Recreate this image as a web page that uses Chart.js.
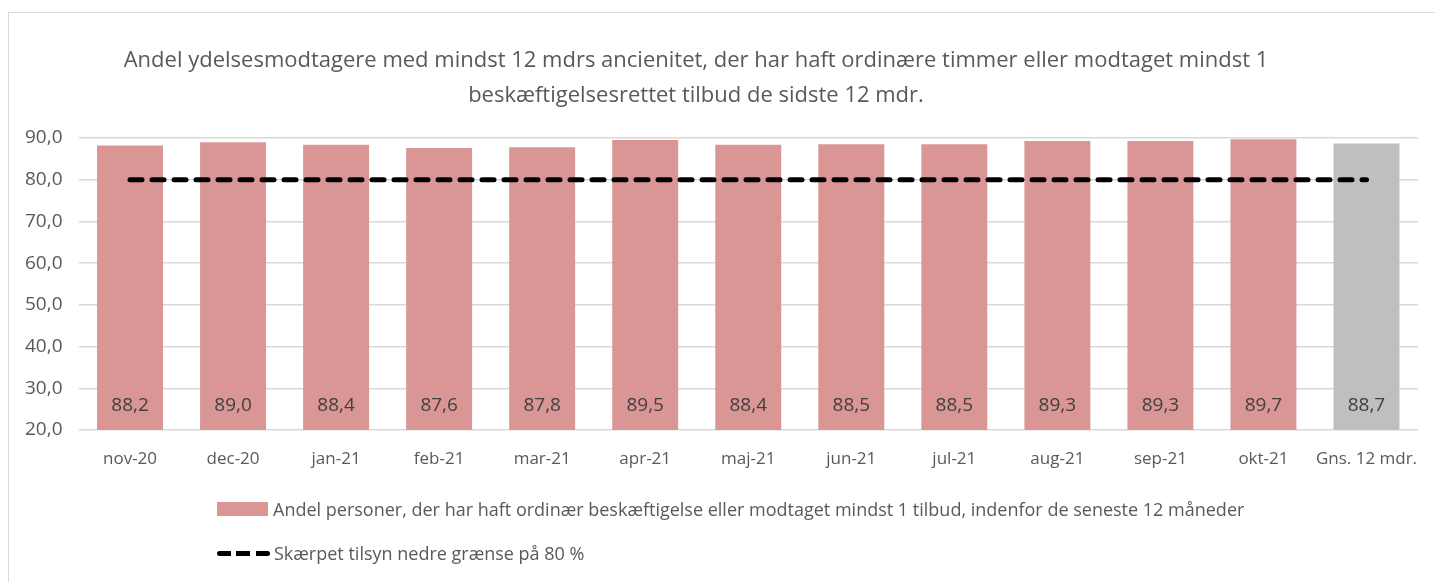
<!DOCTYPE html>
<html>
<head>
<meta charset="utf-8">
<script src="https://cdn.jsdelivr.net/npm/chart.js@4/dist/chart.umd.min.js"></script>
<style>
  html, body { margin: 0; padding: 0; background: #fff; overflow: hidden; }
  body { width: 1435px; height: 582px; position: relative; font-family: "Open Sans", sans-serif; color: #595959; }
  #frame { position: absolute; left: 8px; top: 12px; width: 1500px; height: 700px; border: 1.5px solid #d9d9d9; box-sizing: border-box; }
  #wrap { position: absolute; left: 0; top: 0; width: 1435px; height: 582px; }
  .tline { position: absolute; left: 696px; transform: translateX(-50%); font-size: 22px; line-height: 30px; white-space: nowrap; }
  .leg { position: absolute; left: 217px; font-size: 18px; display: flex; align-items: center; white-space: nowrap; }
  .swatch { width: 51px; height: 14px; background: #d99694; margin-right: 5px; }
  .dash { width: 53px; height: 5px; margin-right: 4px;
          background: repeating-linear-gradient(to right, #000 0 14px, transparent 14px 19.5px); border-radius: 3px; }
</style>
</head>
<body>
<div id="frame"></div>
<div id="wrap"><canvas id="chart"></canvas></div>
<div class="tline" style="top:43px">Andel ydelsesmodtagere med mindst 12 mdrs ancienitet, der har haft ordinære timmer eller modtaget mindst 1</div>
<div class="tline" style="top:78px">beskæftigelsesrettet tilbud de sidste 12 mdr.</div>
<div class="leg" style="top:497px"><div class="swatch"></div><span id="leg1"></span></div>
<div class="leg" style="top:541px"><div class="dash"></div><span id="leg2"></span></div>
<script>
// data
const categories = ['nov-20', 'dec-20', 'jan-21', 'feb-21', 'mar-21', 'apr-21', 'maj-21', 'jun-21', 'jul-21', 'aug-21', 'sep-21', 'okt-21', 'Gns. 12 mdr.'];
const andelValues = [88.2, 89.0, 88.4, 87.6, 87.8, 89.5, 88.4, 88.5, 88.5, 89.3, 89.3, 89.7, 88.7];
const graenseValues = [80, 80, 80, 80, 80, 80, 80, 80, 80, 80, 80, 80, 80];
const yTicks = [20, 30, 40, 50, 60, 70, 80, 90];
const andelLabel = 'Andel personer, der har haft ordinær beskæftigelse eller modtaget mindst 1 tilbud, indenfor de seneste 12 måneder';
const graenseLabel = 'Skærpet tilsyn nedre grænse på 80 %';

document.getElementById('leg1').textContent = andelLabel;
document.getElementById('leg2').textContent = graenseLabel;

const FONT = '"Open Sans", sans-serif';
const fmt = v => v.toFixed(1).replace('.', ',');

// value labels near the bottom of each bar
const barLabels = {
    id: 'barLabels',
    afterDatasetsDraw(chart) {
        const ctx = chart.ctx;
        const meta = chart.getDatasetMeta(1);
        const base = chart.scales.y.getPixelForValue(20);
        ctx.save();
        ctx.font = '19px ' + FONT;
        ctx.fillStyle = '#404040';
        ctx.textAlign = 'center';
        ctx.textBaseline = 'middle';
        meta.data.forEach((bar, i) => {
            ctx.fillText(fmt(andelValues[i]), bar.x, base - 24);
        });
        ctx.restore();
    }
};

new Chart(document.getElementById('chart'), {
    data: {
        labels: categories,
        datasets: [
            {
                type: 'line',
                label: graenseLabel,
                data: graenseValues,
                borderColor: '#000',
                borderWidth: 5,
                borderDash: [12, 10],
                borderCapStyle: 'round',
                pointRadius: 0,
                order: 0
            },
            {
                type: 'bar',
                label: andelLabel,
                data: andelValues,
                backgroundColor: andelValues.map((v, i) => i === andelValues.length - 1 ? '#bfbfbf' : '#d99694'),
                categoryPercentage: 1,
                barPercentage: 0.64,
                order: 1
            }
        ]
    },
    options: {
        responsive: true,
        maintainAspectRatio: false,
        animation: false,
        layout: { padding: { left: 8.5, right: 17, top: 138, bottom: 107 } },
        plugins: { legend: { display: false }, title: { display: false }, tooltip: { enabled: false } },
        scales: {
            x: {
                grid: { display: false },
                border: { display: false },
                ticks: { color: '#595959', font: { family: FONT, size: 17 }, padding: 11, maxRotation: 0, autoSkip: false },
                afterFit: s => { s.height = 45; }
            },
            y: {
                min: 20, max: 90,
                afterBuildTicks: s => { s.ticks = yTicks.map(v => ({ value: v })); },
                grid: { color: '#d9d9d9', lineWidth: 1.5, drawTicks: false },
                border: { display: false },
                ticks: { color: '#595959', font: { family: FONT, size: 19 }, padding: 16, callback: v => fmt(v) },
                afterFit: s => { s.width = 70; }
            }
        }
    },
    plugins: [barLabels]
});
</script>
</body>
</html>
